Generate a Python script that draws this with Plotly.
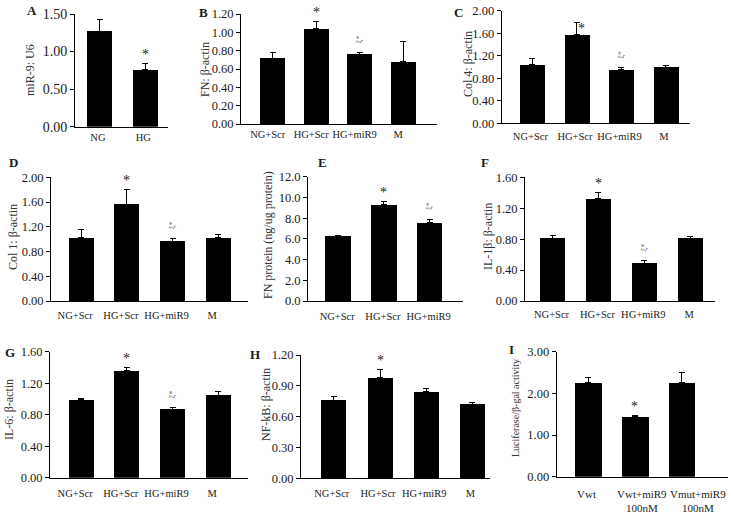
import plotly.graph_objects as go

W, H = 733, 513

# ---------------- data ----------------
cat_A = ["NG", "HG"]
val_A = [1.27, 0.76]
err_A = [0.16, 0.08]
mark_A = ["", "*"]

cat_4 = ["NG+Scr", "HG+Scr", "HG+miR9", "M"]
cat_3 = ["NG+Scr", "HG+Scr", "HG+miR9"]
cat_I = ["Vwt", "Vwt+miR9<br>100nM", "Vmut+miR9<br>100nM"]

val_B = [0.72, 1.04, 0.76, 0.68]
err_B = [0.06, 0.08, 0.02, 0.22]
mark_B = ["", "*", "ξ*", ""]

val_C = [1.04, 1.57, 0.96, 1.00]
err_C = [0.11, 0.22, 0.04, 0.02]
mark_C = ["", "*", "ξ*", ""]

val_D = [1.02, 1.56, 0.97, 1.02]
err_D = [0.13, 0.24, 0.04, 0.05]
mark_D = ["", "*", "ξ*", ""]

val_E = [6.30, 9.32, 7.56]
err_E = [0.07, 0.33, 0.34]
mark_E = ["", "*", "ξ*"]

val_F = [0.81, 1.32, 0.49, 0.81]
err_F = [0.04, 0.08, 0.04, 0.02]
mark_F = ["", "*", "ξ*", ""]

val_G = [0.99, 1.36, 0.87, 1.05]
err_G = [0.01, 0.04, 0.02, 0.04]
mark_G = ["", "*", "ξ*", ""]

val_H = [0.76, 0.98, 0.84, 0.72]
err_H = [0.04, 0.08, 0.03, 0.02]
mark_H = ["", "*", "", ""]

val_I = [2.26, 1.44, 2.26]
err_I = [0.12, 0.02, 0.24]
mark_I = ["", "*", ""]

titles = {
    "A": "miR-9: U6", "B": "FN: β-actin", "C": "Col 4: β-actin",
    "D": "Col 1: β-actin", "E": "FN protein (ng/ug protein)", "F": "IL-1β: β-actin",
    "G": "IL-6: β-actin", "H": "NF-kB: β-actin", "I": "Luciferase/β-gal activity",
}

# ---------------- layout geometry (pixels) ----------------
# name, cats, vals, errs, marks, ymax, dtick, fmt, (x0,x1,ytop,ybot), xrange, barwidth,
# title pos (x,y), letter pos (x,y), y tick font size, title size, x label shift, x label standoff
panels = [
    ("A", cat_A, val_A, err_A, mark_A, 1.5, 0.5, ".2f", (75, 168, 14, 126.7), (-0.55, 1.5), 0.55, (30, 70), (32, 10), 14, 12, -2, 1),
    ("B", cat_4, val_B, err_B, mark_B, 1.2, 0.2, ".2f", (241, 437, 14, 124), (-0.73, 3.78), 0.575, (205, 70), (203, 12), 12.5, 12, -5, 0),
    ("C", cat_4, val_C, err_C, mark_C, 2.0, 0.4, ".2f", (501.7, 690, 10.7, 123.3), (-0.69, 3.54), 0.56, (468, 64), (459, 12), 12.5, 12, -2, 3),
    ("D", cat_4, val_D, err_D, mark_D, 2.0, 0.4, ".2f", (51, 248, 177.3, 301), (-0.66, 3.65), 0.55, (13, 237), (13, 163), 12.5, 12, -6, 4),
    ("E", cat_3, val_E, err_E, mark_E, 12.0, 2.0, ".1f", (308, 463, 176.7, 301), (-0.66, 2.73), 0.56, (268, 235), (322, 163), 12.5, 12, -1, 5),
    ("F", cat_4, val_F, err_F, mark_F, 1.6, 0.4, ".2f", (525, 715, 177.3, 301), (-0.6, 3.54), 0.55, (488, 237), (485, 163), 12.5, 12, -1, 3),
    ("G", cat_4, val_G, err_G, mark_G, 1.6, 0.4, ".2f", (50, 248, 351.7, 477.7), (-0.68, 3.65), 0.55, (9, 410), (10, 352), 12.5, 12, -6, 6),
    ("H", cat_4, val_H, err_H, mark_H, 1.2, 0.3, ".2f", (301, 490, 355, 478.3), (-0.71, 3.38), 0.54, (266, 405), (255, 354), 12.5, 12, -2, 5),
    ("I", cat_I, val_I, err_I, mark_I, 3.0, 1.0, ".2f", (556.7, 728, 351.7, 476.7), (-0.67, 2.99), 0.57, (515, 408), (511, 349), 12.5, 10, 0, 0),
]
# panel I category labels sit slightly right of their bars in the reference
label_shift_I = [-2, 7, 16]

FONT = "Liberation Serif"
TXT = "#1a1a1a"

fig = go.Figure()
annotations = []
layout = {}

for i, (name, cats, vals, errs, marks, ymax, dtick, fmt, box, xr, bw, tpos, lpos, yfs, tfs, xls, xlso) in enumerate(panels):
    k = "" if i == 0 else str(i + 1)
    xs = list(range(len(cats)))
    fig.add_trace(go.Bar(
        x=xs, y=vals, width=bw, marker=dict(color="black", line=dict(width=0)),
        error_y=dict(type="data", symmetric=False, array=errs, arrayminus=[0] * len(errs),
                     color="black", thickness=1, width=3),
        xaxis="x" + k, yaxis="y" + k, showlegend=False,
    ))
    x0, x1, yt, yb = box
    xax = dict(
        domain=[x0 / W, x1 / W], range=list(xr), anchor="y" + k, automargin=False,
        ticks="", tickangle=0, showgrid=False, zeroline=False,
        showline=True, linecolor="black", linewidth=1,
        tickfont=dict(family=FONT, size=10.5, color=TXT), fixedrange=True,
        ticklabelshift=xls, ticklabelstandoff=xlso,
    )
    if name == "I":
        xax.update(tickvals=[], showticklabels=False)
        for j, c in enumerate(cats):
            annotations.append(dict(
                x=j, y=0, xref="x" + k, yref="y" + k, text=c, showarrow=False,
                font=dict(family=FONT, size=11, color=TXT), align="center",
                xanchor="center", yanchor="top", xshift=label_shift_I[j], yshift=-9,
            ))
    else:
        xax.update(tickvals=xs, ticktext=cats)
    layout["xaxis" + k] = xax
    nt = int(round(ymax / dtick))
    tv = [dtick * j for j in range(nt + 1)]
    layout["yaxis" + k] = dict(
        domain=[1 - yb / H, 1 - yt / H], range=[0, ymax], anchor="x" + k, automargin=False,
        tickvals=tv, tickformat=fmt, ticks="outside", ticklen=4, tickcolor="black",
        showgrid=False, zeroline=False, showline=True, linecolor="black", linewidth=1,
        tickfont=dict(family=FONT, size=yfs, color=TXT), fixedrange=True,
    )
    # axis title
    annotations.append(dict(
        x=tpos[0] / W, y=1 - tpos[1] / H, xref="paper", yref="paper",
        text=titles[name], textangle=-90, showarrow=False,
        font=dict(family=FONT, size=tfs, color="#333"), xanchor="center", yanchor="middle",
    ))
    # panel letter
    annotations.append(dict(
        x=lpos[0] / W, y=1 - lpos[1] / H, xref="paper", yref="paper",
        text="<b>" + name + "</b>", showarrow=False,
        font=dict(family=FONT, size=13, color=TXT), xanchor="center", yanchor="middle",
    ))
    # significance marks
    for j, m in enumerate(marks):
        if not m:
            continue
        top = vals[j] + errs[j]
        if m == "*":
            xsft, ysft = (5, -6) if name == "C" else (0, 9)
            annotations.append(dict(
                x=j, y=top, xref="x" + k, yref="y" + k, text="*", showarrow=False,
                font=dict(family=FONT, size=14, color=TXT),
                xanchor="center", yanchor="middle", xshift=xsft, yshift=ysft,
            ))
        else:
            annotations.append(dict(
                x=j, y=top, xref="x" + k, yref="y" + k, text=m, showarrow=False,
                textangle=-90, font=dict(family=FONT, size=8, color="#666"),
                xanchor="center", yanchor="bottom", yshift=7,
            ))

fig.update_layout(
    width=W, height=H, margin=dict(l=0, r=0, t=0, b=0, autoexpand=False),
    paper_bgcolor="white", plot_bgcolor="white",
    annotations=annotations, bargap=0, **layout,
)

# remove the browser's default 8px page margin so the figure sits at the window corner
fig.write_html("out.html", config={"displayModeBar": False},
               post_script="document.body.style.margin='0px';")
